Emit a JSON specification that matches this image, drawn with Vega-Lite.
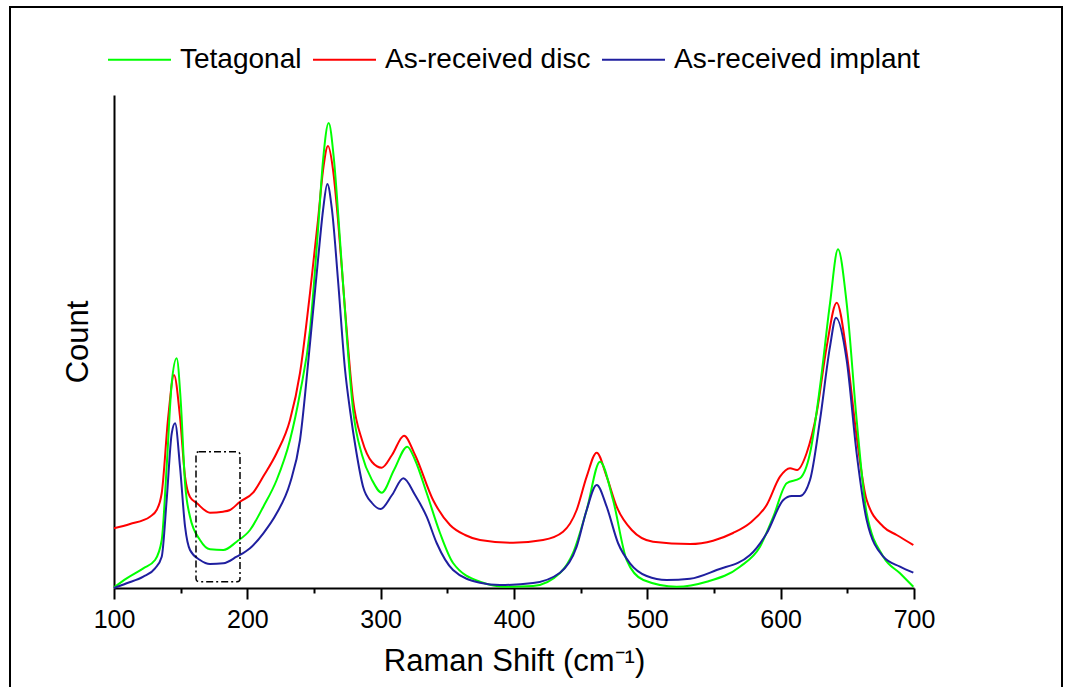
{
  "$schema": "https://vega.github.io/schema/vega-lite/v6.json",
  "width": 800,
  "height": 493,
  "autosize": {"type": "none"},
  "padding": {"left": 114, "top": 95, "right": 154, "bottom": 99},
  "background": "white",
  "config": {"view": {"stroke": null}, "font": "Liberation Sans", "axisY": {"domainWidth": 2, "domainColor": "black"}},
  "datasets": {
    "spectra": [
      {"shift": 100, "count": 59.7, "series": "As-received disc"},
      {"shift": 112, "count": 64, "series": "As-received disc"},
      {"shift": 127, "count": 71.3, "series": "As-received disc"},
      {"shift": 132, "count": 78, "series": "As-received disc"},
      {"shift": 135.8, "count": 95, "series": "As-received disc"},
      {"shift": 140.7, "count": 171.3, "series": "As-received disc"},
      {"shift": 145, "count": 213, "series": "As-received disc"},
      {"shift": 149.5, "count": 171, "series": "As-received disc"},
      {"shift": 153.3, "count": 111, "series": "As-received disc"},
      {"shift": 157, "count": 91, "series": "As-received disc"},
      {"shift": 162, "count": 85, "series": "As-received disc"},
      {"shift": 172, "count": 75.3, "series": "As-received disc"},
      {"shift": 181.8, "count": 76.3, "series": "As-received disc"},
      {"shift": 187, "count": 78, "series": "As-received disc"},
      {"shift": 194.5, "count": 86.3, "series": "As-received disc"},
      {"shift": 204.3, "count": 95.3, "series": "As-received disc"},
      {"shift": 211.8, "count": 111.3, "series": "As-received disc"},
      {"shift": 222, "count": 135, "series": "As-received disc"},
      {"shift": 232, "count": 168, "series": "As-received disc"},
      {"shift": 239.5, "count": 215, "series": "As-received disc"},
      {"shift": 247, "count": 295, "series": "As-received disc"},
      {"shift": 253, "count": 368, "series": "As-received disc"},
      {"shift": 256.8, "count": 418, "series": "As-received disc"},
      {"shift": 260.5, "count": 442, "series": "As-received disc"},
      {"shift": 264.3, "count": 418, "series": "As-received disc"},
      {"shift": 268, "count": 368, "series": "As-received disc"},
      {"shift": 273.3, "count": 278, "series": "As-received disc"},
      {"shift": 279.3, "count": 188, "series": "As-received disc"},
      {"shift": 286, "count": 148, "series": "As-received disc"},
      {"shift": 293.5, "count": 126, "series": "As-received disc"},
      {"shift": 300.8, "count": 120.3, "series": "As-received disc"},
      {"shift": 308.5, "count": 133, "series": "As-received disc"},
      {"shift": 317.5, "count": 152.3, "series": "As-received disc"},
      {"shift": 325.8, "count": 133, "series": "As-received disc"},
      {"shift": 339.3, "count": 88, "series": "As-received disc"},
      {"shift": 352, "count": 63, "series": "As-received disc"},
      {"shift": 363.3, "count": 53, "series": "As-received disc"},
      {"shift": 374.5, "count": 48, "series": "As-received disc"},
      {"shift": 399.3, "count": 45.3, "series": "As-received disc"},
      {"shift": 421.8, "count": 48, "series": "As-received disc"},
      {"shift": 436.8, "count": 56.3, "series": "As-received disc"},
      {"shift": 447, "count": 78, "series": "As-received disc"},
      {"shift": 454.5, "count": 111.3, "series": "As-received disc"},
      {"shift": 462, "count": 135.3, "series": "As-received disc"},
      {"shift": 469.5, "count": 111.3, "series": "As-received disc"},
      {"shift": 477, "count": 81.3, "series": "As-received disc"},
      {"shift": 488.3, "count": 58, "series": "As-received disc"},
      {"shift": 504.3, "count": 46.3, "series": "As-received disc"},
      {"shift": 532, "count": 44, "series": "As-received disc"},
      {"shift": 549.3, "count": 47.3, "series": "As-received disc"},
      {"shift": 564.3, "count": 55, "series": "As-received disc"},
      {"shift": 577, "count": 65, "series": "As-received disc"},
      {"shift": 589.5, "count": 83, "series": "As-received disc"},
      {"shift": 599.5, "count": 111.3, "series": "As-received disc"},
      {"shift": 607, "count": 119.7, "series": "As-received disc"},
      {"shift": 612.3, "count": 118, "series": "As-received disc"},
      {"shift": 619.5, "count": 135, "series": "As-received disc"},
      {"shift": 627, "count": 175, "series": "As-received disc"},
      {"shift": 634.5, "count": 241.3, "series": "As-received disc"},
      {"shift": 642, "count": 285.3, "series": "As-received disc"},
      {"shift": 649.5, "count": 235, "series": "As-received disc"},
      {"shift": 657, "count": 151.3, "series": "As-received disc"},
      {"shift": 664.5, "count": 88, "series": "As-received disc"},
      {"shift": 677, "count": 61.3, "series": "As-received disc"},
      {"shift": 687, "count": 53, "series": "As-received disc"},
      {"shift": 699.5, "count": 43, "series": "As-received disc"},

      {"shift": 100, "count": 0.7, "series": "Tetagonal"},
      {"shift": 109.5, "count": 9.7, "series": "Tetagonal"},
      {"shift": 122, "count": 19.7, "series": "Tetagonal"},
      {"shift": 130.8, "count": 28, "series": "Tetagonal"},
      {"shift": 135.8, "count": 48, "series": "Tetagonal"},
      {"shift": 139.5, "count": 121.3, "series": "Tetagonal"},
      {"shift": 143.3, "count": 205, "series": "Tetagonal"},
      {"shift": 147, "count": 229.7, "series": "Tetagonal"},
      {"shift": 150, "count": 188, "series": "Tetagonal"},
      {"shift": 153.3, "count": 104.7, "series": "Tetagonal"},
      {"shift": 157, "count": 71.3, "series": "Tetagonal"},
      {"shift": 164.5, "count": 48, "series": "Tetagonal"},
      {"shift": 172, "count": 38.7, "series": "Tetagonal"},
      {"shift": 182, "count": 38, "series": "Tetagonal"},
      {"shift": 192, "count": 46.3, "series": "Tetagonal"},
      {"shift": 202, "count": 58, "series": "Tetagonal"},
      {"shift": 212, "count": 81.3, "series": "Tetagonal"},
      {"shift": 222, "count": 108, "series": "Tetagonal"},
      {"shift": 232, "count": 148, "series": "Tetagonal"},
      {"shift": 239.5, "count": 194.7, "series": "Tetagonal"},
      {"shift": 247, "count": 258, "series": "Tetagonal"},
      {"shift": 253, "count": 358, "series": "Tetagonal"},
      {"shift": 256.8, "count": 428, "series": "Tetagonal"},
      {"shift": 261, "count": 465, "series": "Tetagonal"},
      {"shift": 265, "count": 428, "series": "Tetagonal"},
      {"shift": 269.5, "count": 348, "series": "Tetagonal"},
      {"shift": 274.8, "count": 248, "series": "Tetagonal"},
      {"shift": 279.3, "count": 178, "series": "Tetagonal"},
      {"shift": 286, "count": 133, "series": "Tetagonal"},
      {"shift": 293.5, "count": 108, "series": "Tetagonal"},
      {"shift": 300.8, "count": 95.3, "series": "Tetagonal"},
      {"shift": 310, "count": 118, "series": "Tetagonal"},
      {"shift": 320, "count": 141.3, "series": "Tetagonal"},
      {"shift": 325.8, "count": 128, "series": "Tetagonal"},
      {"shift": 334.5, "count": 95, "series": "Tetagonal"},
      {"shift": 344.5, "count": 55, "series": "Tetagonal"},
      {"shift": 354.3, "count": 25, "series": "Tetagonal"},
      {"shift": 374.5, "count": 6.3, "series": "Tetagonal"},
      {"shift": 394.5, "count": 1.3, "series": "Tetagonal"},
      {"shift": 414.3, "count": 2, "series": "Tetagonal"},
      {"shift": 434.5, "count": 15, "series": "Tetagonal"},
      {"shift": 444.3, "count": 35, "series": "Tetagonal"},
      {"shift": 454.5, "count": 78, "series": "Tetagonal"},
      {"shift": 464.5, "count": 126.3, "series": "Tetagonal"},
      {"shift": 474.3, "count": 88, "series": "Tetagonal"},
      {"shift": 484.5, "count": 28, "series": "Tetagonal"},
      {"shift": 497, "count": 8, "series": "Tetagonal"},
      {"shift": 522, "count": 1.3, "series": "Tetagonal"},
      {"shift": 544.5, "count": 6.3, "series": "Tetagonal"},
      {"shift": 569.5, "count": 21.3, "series": "Tetagonal"},
      {"shift": 584.5, "count": 41.3, "series": "Tetagonal"},
      {"shift": 594.5, "count": 71.3, "series": "Tetagonal"},
      {"shift": 604.5, "count": 104.7, "series": "Tetagonal"},
      {"shift": 614.5, "count": 109.7, "series": "Tetagonal"},
      {"shift": 622, "count": 134.7, "series": "Tetagonal"},
      {"shift": 629.5, "count": 201.3, "series": "Tetagonal"},
      {"shift": 637, "count": 284.7, "series": "Tetagonal"},
      {"shift": 643, "count": 338.7, "series": "Tetagonal"},
      {"shift": 649.5, "count": 284.7, "series": "Tetagonal"},
      {"shift": 657, "count": 168, "series": "Tetagonal"},
      {"shift": 664.5, "count": 74.7, "series": "Tetagonal"},
      {"shift": 677, "count": 31.3, "series": "Tetagonal"},
      {"shift": 689.5, "count": 14.7, "series": "Tetagonal"},
      {"shift": 699.5, "count": 1.3, "series": "Tetagonal"},

      {"shift": 100, "count": 0, "series": "As-received implant"},
      {"shift": 109.5, "count": 4.7, "series": "As-received implant"},
      {"shift": 122, "count": 11.3, "series": "As-received implant"},
      {"shift": 130.8, "count": 19.7, "series": "As-received implant"},
      {"shift": 135.8, "count": 31.3, "series": "As-received implant"},
      {"shift": 139.5, "count": 88, "series": "As-received implant"},
      {"shift": 143.3, "count": 154.7, "series": "As-received implant"},
      {"shift": 145.8, "count": 164.7, "series": "As-received implant"},
      {"shift": 149.5, "count": 121.3, "series": "As-received implant"},
      {"shift": 153.3, "count": 61.3, "series": "As-received implant"},
      {"shift": 157, "count": 38, "series": "As-received implant"},
      {"shift": 164.5, "count": 28, "series": "As-received implant"},
      {"shift": 172, "count": 24, "series": "As-received implant"},
      {"shift": 182, "count": 24.7, "series": "As-received implant"},
      {"shift": 192, "count": 31.3, "series": "As-received implant"},
      {"shift": 202, "count": 39.7, "series": "As-received implant"},
      {"shift": 212, "count": 54.7, "series": "As-received implant"},
      {"shift": 222, "count": 74.7, "series": "As-received implant"},
      {"shift": 232, "count": 104.7, "series": "As-received implant"},
      {"shift": 239.5, "count": 148, "series": "As-received implant"},
      {"shift": 247, "count": 244.7, "series": "As-received implant"},
      {"shift": 253, "count": 328, "series": "As-received implant"},
      {"shift": 256.8, "count": 378, "series": "As-received implant"},
      {"shift": 260, "count": 404, "series": "As-received implant"},
      {"shift": 263.5, "count": 378, "series": "As-received implant"},
      {"shift": 268, "count": 308, "series": "As-received implant"},
      {"shift": 273.3, "count": 218, "series": "As-received implant"},
      {"shift": 277, "count": 178, "series": "As-received implant"},
      {"shift": 281.5, "count": 138, "series": "As-received implant"},
      {"shift": 286.8, "count": 101.3, "series": "As-received implant"},
      {"shift": 293.5, "count": 85, "series": "As-received implant"},
      {"shift": 300, "count": 79, "series": "As-received implant"},
      {"shift": 308.5, "count": 93, "series": "As-received implant"},
      {"shift": 317, "count": 109.7, "series": "As-received implant"},
      {"shift": 325.8, "count": 93, "series": "As-received implant"},
      {"shift": 334.5, "count": 71.3, "series": "As-received implant"},
      {"shift": 342, "count": 45, "series": "As-received implant"},
      {"shift": 354.3, "count": 18, "series": "As-received implant"},
      {"shift": 374.5, "count": 5.3, "series": "As-received implant"},
      {"shift": 389.5, "count": 3, "series": "As-received implant"},
      {"shift": 414.3, "count": 5, "series": "As-received implant"},
      {"shift": 434.5, "count": 15.3, "series": "As-received implant"},
      {"shift": 447, "count": 41.3, "series": "As-received implant"},
      {"shift": 454.5, "count": 78, "series": "As-received implant"},
      {"shift": 462, "count": 103, "series": "As-received implant"},
      {"shift": 469.5, "count": 81.3, "series": "As-received implant"},
      {"shift": 478, "count": 45, "series": "As-received implant"},
      {"shift": 487, "count": 24.7, "series": "As-received implant"},
      {"shift": 499.5, "count": 12, "series": "As-received implant"},
      {"shift": 514.5, "count": 8, "series": "As-received implant"},
      {"shift": 532, "count": 9.3, "series": "As-received implant"},
      {"shift": 552, "count": 18, "series": "As-received implant"},
      {"shift": 577, "count": 33, "series": "As-received implant"},
      {"shift": 589.5, "count": 54.7, "series": "As-received implant"},
      {"shift": 602, "count": 88, "series": "As-received implant"},
      {"shift": 608.3, "count": 92, "series": "As-received implant"},
      {"shift": 614.5, "count": 92, "series": "As-received implant"},
      {"shift": 622, "count": 108, "series": "As-received implant"},
      {"shift": 629.5, "count": 168, "series": "As-received implant"},
      {"shift": 637, "count": 241.3, "series": "As-received implant"},
      {"shift": 641.5, "count": 270.3, "series": "As-received implant"},
      {"shift": 649.5, "count": 228, "series": "As-received implant"},
      {"shift": 657, "count": 134.7, "series": "As-received implant"},
      {"shift": 664.5, "count": 68, "series": "As-received implant"},
      {"shift": 677, "count": 31.3, "series": "As-received implant"},
      {"shift": 689.5, "count": 21.3, "series": "As-received implant"},
      {"shift": 699.5, "count": 15.3, "series": "As-received implant"}
    ],
    "box": [{"x1": 161.5, "x2": 194.5, "y1": 6.3, "y2": 136.3}],
    "frame": [{"x1": 22, "x2": 811, "y1": -110, "y2": 581}],
    "minor": [{"shift": 150}]
  },
  "layer": [
    {
      "data": {"name": "frame"},
      "mark": {"type": "rect", "fill": null, "stroke": "black", "strokeWidth": 2, "clip": false},
      "encoding": {
        "x": {"field": "x1", "type": "quantitative", "axis": null},
        "x2": {"field": "x2"},
        "y": {"field": "y1", "type": "quantitative"},
        "y2": {"field": "y2"}
      }
    },
    {
      "data": {"name": "spectra"},
      "mark": {"type": "line", "interpolate": "monotone"},
      "encoding": {
        "x": {
          "field": "shift", "type": "quantitative",
          "scale": {"domain": [100, 700], "nice": false, "zero": false},
          "axis": {
            "orient": "bottom",
            "values": [100, 200, 300, 400, 500, 600, 700],
            "tickSize": 11, "tickWidth": 2, "tickColor": "black",
            "domainWidth": 2, "domainColor": "black",
            "labelFontSize": 25, "labelColor": "black", "labelPadding": 8, "labelFont": "Liberation Sans",
            "labelFlush": false, "labelOverlap": false,
            "grid": false,
            "title": "Raman Shift (cm⁻¹)", "titleFontSize": 31, "titleFontWeight": "normal",
            "titleColor": "black", "titlePadding": 14, "titleFont": "Liberation Sans"
          }
        },
        "y": {
          "field": "count", "type": "quantitative",
          "scale": {"domain": [0, 493], "nice": false, "zero": false},
          "axis": {
            "ticks": false, "labels": false, "grid": false,
            "domainWidth": 2, "domainColor": "black",
            "title": "Count", "titleFontSize": 31, "titleFontWeight": "normal",
            "titleColor": "black", "titlePadding": 20, "titleFont": "Liberation Sans"
          }
        },
        "color": {
          "field": "series", "type": "nominal",
          "scale": {"domain": ["Tetagonal", "As-received disc", "As-received implant"], "range": ["#00ff00", "#ff0000", "#1f1f9f"]},
          "legend": {
            "orient": "none", "legendX": -7, "legendY": -68, "direction": "horizontal",
            "title": null, "symbolType": "stroke", "symbolSize": 3969, "symbolStrokeWidth": 1.5,
            "labelFontSize": 28, "labelFont": "Liberation Sans", "labelColor": "black",
            "labelOffset": 8, "columnPadding": 7, "labelLimit": 500
          }
        },
        "strokeWidth": {
          "field": "series", "type": "nominal",
          "scale": {"domain": ["Tetagonal", "As-received disc", "As-received implant"], "range": [2, 2, 1.2]},
          "legend": null
        }
      }
    },
    {
      "data": {"name": "box"},
      "mark": {"type": "rect", "fill": null, "stroke": "black", "strokeWidth": 1.5, "strokeDash": [7, 3, 2, 3], "cornerRadius": 3},
      "encoding": {
        "x": {"field": "x1", "type": "quantitative", "axis": null},
        "x2": {"field": "x2"},
        "y": {"field": "y1", "type": "quantitative"},
        "y2": {"field": "y2"}
      }
    },
    {
      "data": {"name": "minor"},
      "mark": {"type": "tick", "opacity": 0},
      "encoding": {
        "x": {
          "field": "shift", "type": "quantitative",
          "axis": {
            "orient": "bottom", "values": [150, 250, 350, 450, 550, 650],
            "tickSize": 5, "tickWidth": 2, "tickColor": "black",
            "domain": false, "labels": false, "grid": false, "title": null
          }
        }
      }
    }
  ],
  "resolve": {"axis": {"x": "independent"}}
}
